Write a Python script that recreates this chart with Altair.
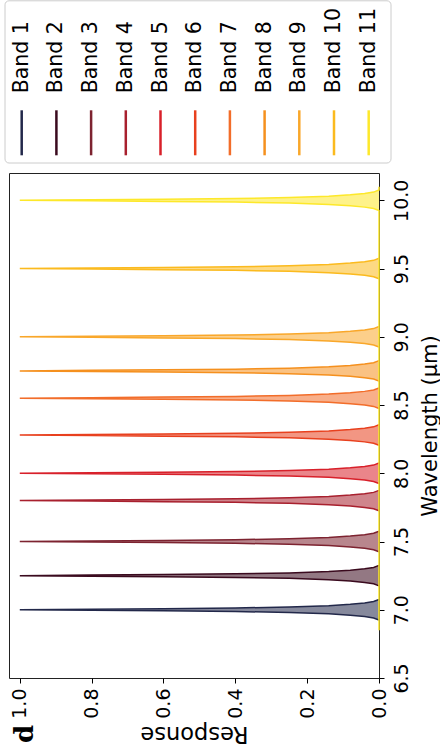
import altair as alt
import pandas as pd

# ---- data ----
bands = ["Band 1", "Band 2", "Band 3", "Band 4", "Band 5", "Band 6",
         "Band 7", "Band 8", "Band 9", "Band 10", "Band 11"]
centers = [7.0, 7.25, 7.5, 7.8, 8.0, 8.28, 8.55, 8.75, 9.0, 9.5, 10.0]
colors = ["#22284a", "#3a0a1e", "#7d2330", "#a8202e", "#d8202a", "#e8401e",
          "#f26d2a", "#f5901e", "#f9a72a", "#fbba1e", "#fde82a"]

# common spectral profile (offset from band centre in um, response)
profile_offset = [-0.075, -0.06, -0.05, -0.04, -0.03, -0.02, -0.013, -0.008, -0.004, 0.0,
                  0.004, 0.008, 0.013, 0.02, 0.03, 0.04, 0.05, 0.06, 0.075]
profile_response = [0.0, 0.015, 0.04, 0.08, 0.14, 0.25, 0.4, 0.6, 0.8, 1.0,
                    0.8, 0.6, 0.4, 0.25, 0.14, 0.08, 0.04, 0.015, 0.0]
# zero baseline of the last band along the axis
baseline_wl = [6.85, 10.1]

wl_ticks = [6.5, 7.0, 7.5, 8.0, 8.5, 9.0, 9.5, 10.0]
resp_ticks = [0.0, 0.2, 0.4, 0.6, 0.8, 1.0]

rows = []
for b, c in zip(bands, centers):
    for o, r in zip(profile_offset, profile_response):
        rows.append({"band": b, "wavelength": round(c + o, 4), "response": r})
for w in baseline_wl:
    rows.append({"band": bands[-1], "wavelength": w, "response": 0.0})
df = pd.DataFrame(rows)

FONT = "DejaVu Sans"

color_enc = alt.Color("band:N", scale=alt.Scale(domain=bands, range=colors), legend=None)

x_axis = alt.Axis(values=resp_ticks, format=".1f", labelAngle=270, labelAlign="right",
                  labelBaseline="middle", labelFont=FONT, labelFontSize=19, labelColor="#000",
                  labelPadding=5, tickSize=5, tickColor="#000", domain=False, grid=False,
                  title="Response", titleAngle=180, titleBaseline="bottom", titleFont=FONT,
                  titleFontSize=22.5, titleFontWeight="normal", titleColor="#000", titlePadding=3)
x_enc = alt.X("response:Q", stack=None,
              scale=alt.Scale(domain=[0, 1.03], reverse=True, nice=False, zero=False),
              axis=x_axis)

y_axis = alt.Axis(orient="right", values=wl_ticks, format=".1f", labelAngle=270,
                  labelAlign="center", labelBaseline="top", labelFont=FONT,
                  labelFontSize=19, labelColor="#000", labelPadding=8, tickSize=5,
                  tickColor="#000", domain=False, grid=False,
                  title="Wavelength (μm)", titleAngle=270, titleBaseline="top",
                  titleFont=FONT, titleFontSize=21, titleFontWeight="normal",
                  titleColor="#000", titlePadding=8)
y_enc = alt.Y("wavelength:Q", scale=alt.Scale(domain=[6.5, 10.2], nice=False, zero=False),
              axis=y_axis)

area = alt.Chart(df).mark_area(orient="horizontal", fillOpacity=0.55).encode(
    x=x_enc, y=y_enc, color=color_enc)
line = alt.Chart(df).mark_line(strokeWidth=1.5).encode(
    x=x_enc, y=y_enc, color=color_enc, order=alt.Order("wavelength:Q"))
panel = alt.Chart(pd.DataFrame({"label": ["d"]})).mark_text(
    angle=270, align="center", baseline="middle", font="DejaVu Serif", fontWeight="bold",
    fontSize=26, color="#000").encode(x=alt.value(15.5), y=alt.value(561), text="label:N")

plot = alt.layer(area, line, panel)

# ---- legend drawn above the plot (own x scale) ----
leg_df = pd.DataFrame({"band": bands})
leg_x = alt.X("band:N",
              scale=alt.Scale(type="point", domain=bands, range=[12.7, 359.7], padding=0),
              axis=None)
leg_box = alt.Chart(pd.DataFrame({"k": [0]})).mark_rect(
    fill="white", stroke="#cccccc", strokeWidth=1, cornerRadius=4).encode(
    x=alt.value(-4), x2=alt.value(382), y=alt.value(-172.2), y2=alt.value(-10))
leg_rules = alt.Chart(leg_df).mark_rule(strokeWidth=2.5).encode(
    x=leg_x, y=alt.value(-62.7), y2=alt.value(-17.7), color=color_enc)
leg_text = alt.Chart(leg_df).mark_text(
    angle=270, align="left", baseline="middle", font=FONT, fontSize=20.5, color="#000").encode(
    x=leg_x, y=alt.value(-79.7), text="band:N")
legend = alt.layer(leg_box, leg_rules, leg_text)

chart = alt.layer(plot, legend).resolve_scale(x="independent").properties(
    width=370, height=505,
    view=alt.ViewBackground(stroke="#222222", strokeWidth=1),
    padding={"left": 4, "top": 0, "right": 0, "bottom": 5}, background="white")

chart.save("out.html", embed_options={"renderer": "svg", "actions": False})
